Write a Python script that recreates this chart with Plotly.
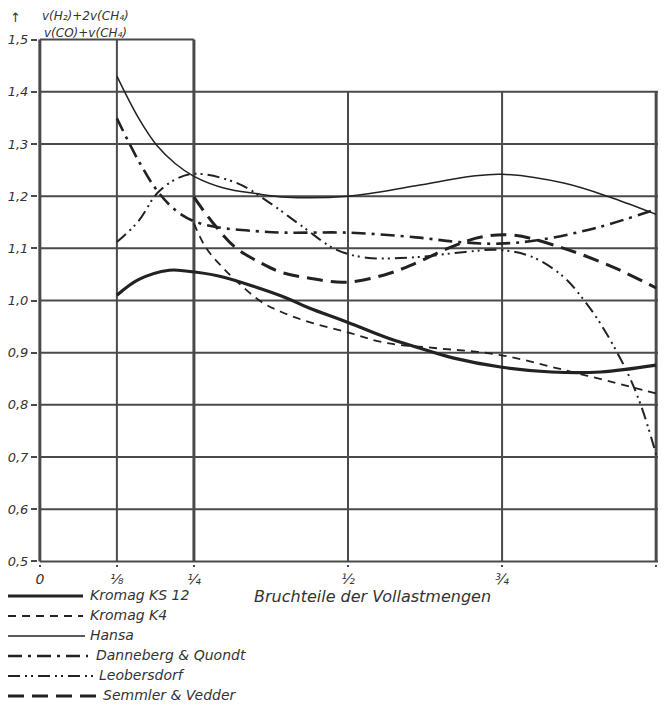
import plotly.graph_objects as go

# ---------------- data ----------------
x_ks12 = [0.125, 0.16, 0.21, 0.24, 0.29, 0.35, 0.40, 0.436, 0.50, 0.56, 0.61, 0.67, 0.75, 0.83, 0.91, 1.0]
y_ks12 = [1.010, 1.040, 1.058, 1.056, 1.047, 1.026, 1.005, 0.986, 0.958, 0.930, 0.911, 0.890, 0.872, 0.863, 0.863, 0.876]

x_k4 = [0.25, 0.269, 0.296, 0.323, 0.36, 0.392, 0.436, 0.50, 0.56, 0.64, 0.745, 0.85, 0.957, 1.0]
y_k4 = [1.148, 1.102, 1.064, 1.033, 0.997, 0.978, 0.959, 0.939, 0.919, 0.909, 0.896, 0.867, 0.835, 0.822]

x_hansa = [0.125, 0.16, 0.19, 0.22, 0.25, 0.30, 0.35, 0.40, 0.50, 0.61, 0.70, 0.75, 0.85, 0.93, 1.0]
y_hansa = [1.430, 1.350, 1.297, 1.262, 1.238, 1.215, 1.205, 1.198, 1.200, 1.220, 1.238, 1.242, 1.225, 1.196, 1.165]

x_dq = [0.125, 0.16, 0.19, 0.22, 0.25, 0.29, 0.35, 0.40, 0.50, 0.61, 0.68, 0.745, 0.81, 0.905, 1.0]
y_dq = [1.349, 1.268, 1.211, 1.173, 1.152, 1.140, 1.133, 1.130, 1.130, 1.121, 1.112, 1.109, 1.116, 1.140, 1.175]

x_leob = [0.125, 0.16, 0.19, 0.22, 0.25, 0.32, 0.373, 0.427, 0.48, 0.53, 0.61, 0.69, 0.745, 0.80, 0.85, 0.88, 0.91, 0.95, 0.975, 1.0]
y_leob = [1.112, 1.152, 1.205, 1.232, 1.243, 1.225, 1.187, 1.141, 1.098, 1.082, 1.083, 1.093, 1.097, 1.083, 1.045, 1.005, 0.955, 0.870, 0.800, 0.705]

x_sv = [0.25, 0.28, 0.317, 0.36, 0.392, 0.436, 0.495, 0.559, 0.611, 0.666, 0.718, 0.77, 0.85, 0.93, 1.0]
y_sv = [1.198, 1.150, 1.102, 1.071, 1.054, 1.043, 1.035, 1.049, 1.072, 1.102, 1.122, 1.125, 1.100, 1.064, 1.024]

x_tickvals = [0, 0.125, 0.25, 0.5, 0.75, 1.0]
x_ticktext = ["0", "⅛", "¼", "½", "¾", "1"]
y_tickvals = [0.5, 0.6, 0.7, 0.8, 0.9, 1.0, 1.1, 1.2, 1.3, 1.4, 1.5]
y_ticktext = ["0,5", "0,6", "0,7", "0,8", "0,9", "1,0", "1,1", "1,2", "1,3", "1,4", "1,5"]

names = ["Kromag KS 12", "Kromag K4", "Hansa", "Danneberg & Quondt", "Leobersdorf", "Semmler & Vedder"]

# ---------------- styles ----------------
INK = "#222222"
GRID = "#4a4a4a"
TXT = "#333333"
FONT = "DejaVu Sans"

styles = [
    dict(width=3.2, dash="solid"),
    dict(width=1.8, dash="8px,6px"),
    dict(width=1.5, dash="solid"),
    dict(width=2.6, dash="14px,6px,3px,6px"),
    dict(width=2.0, dash="12px,5px,2px,4px,2px,5px"),
    dict(width=3.0, dash="16px,8px"),
]
series = [(x_ks12, y_ks12), (x_k4, y_k4), (x_hansa, y_hansa),
          (x_dq, y_dq), (x_leob, y_leob), (x_sv, y_sv)]

fig = go.Figure()
for (xs, ys), nm, st in zip(series, names, styles):
    fig.add_trace(go.Scatter(x=xs, y=ys, name=nm, mode="lines",
                             line=dict(color=INK, width=st["width"], dash=st["dash"],
                                       shape="spline", smoothing=1.0),
                             showlegend=False))

# ---------------- grid / frame ----------------
shapes = []
def hline(y, x0, x1, w=2):
    shapes.append(dict(type="line", xref="x", yref="y", x0=x0, x1=x1, y0=y, y1=y,
                       line=dict(color=GRID, width=w), layer="below"))
def vline(x, y0, y1, w=2):
    shapes.append(dict(type="line", xref="x", yref="y", x0=x, x1=x, y0=y0, y1=y1,
                       line=dict(color=GRID, width=w), layer="below"))

for yv in [0.6, 0.7, 0.8, 0.9, 1.0, 1.1, 1.2, 1.3, 1.4]:
    hline(yv, 0, 1.003, 2)
hline(1.5, 0, 0.25, 2)
hline(0.5, 0, 1.003, 2)
vline(0, 0.5, 1.5, 3)
vline(0.125, 0.5, 1.5, 2)
vline(0.25, 0.5, 1.5, 3)
vline(0.5, 0.5, 1.4, 2)
vline(0.75, 0.5, 1.4, 2)
vline(1.0, 0.5, 1.4, 3)

# ---------------- layout geometry (page has an 8px body margin) ----------------
OFF = 8
FW, FH = 650, 699
L, T, PW, PH = 30, 29, 620, 527

def px(xs):
    return (xs - OFF - L) / PW
def py(ys):
    return (T + PH - (ys - OFF)) / PH

annotations = []
leg_rows = [
    (595, 8, 83, 88),
    (615, 8, 83, 88),
    (635, 8, 85, 88),
    (655, 8, 88, 94),
    (675, 8, 93, 97),
    (695, 8, 97, 101),
]
for (ry, lx0, lx1, tx), nm, st in zip(leg_rows, names, styles):
    shapes.append(dict(type="line", xref="paper", yref="paper",
                       x0=px(lx0), x1=px(lx1), y0=py(ry + 1), y1=py(ry + 1),
                       line=dict(color=INK, width=st["width"], dash=st["dash"])))
    annotations.append(dict(xref="paper", yref="paper", x=px(tx), y=py(ry),
                            xanchor="left", yanchor="middle", showarrow=False,
                            text=nm, font=dict(family=FONT, size=14, color=TXT, style="italic")))

annotations.append(dict(xref="paper", yref="paper", x=px(372), y=py(596),
                        xanchor="center", yanchor="middle", showarrow=False,
                        text="Bruchteile der Vollastmengen",
                        font=dict(family=FONT, size=16, color=TXT, style="italic")))
annotations.append(dict(xref="paper", yref="paper", x=px(40), y=py(16),
                        xanchor="left", yanchor="middle", showarrow=False,
                        text="v(H₂)+2v(CH₄)",
                        font=dict(family=FONT, size=12, color=TXT, style="italic")))
annotations.append(dict(xref="paper", yref="paper", x=px(42), y=py(33),
                        xanchor="left", yanchor="middle", showarrow=False,
                        text="v(CO)+v(CH₄)",
                        font=dict(family=FONT, size=12, color=TXT, style="italic")))
annotations.append(dict(xref="paper", yref="paper", x=px(15), y=py(17),
                        xanchor="center", yanchor="middle", showarrow=False,
                        text="↑",
                        font=dict(family=FONT, size=13, color=TXT)))

fig.update_layout(
    width=FW, height=FH,
    margin=dict(l=L, r=FW - L - PW, t=T, b=FH - T - PH, pad=0),
    plot_bgcolor="white", paper_bgcolor="white",
    shapes=shapes, annotations=annotations,
    showlegend=False,
    xaxis=dict(range=[-0.003, 1.003], showgrid=False, zeroline=False, showline=False,
               tickvals=x_tickvals, ticktext=x_ticktext, ticks="outside", ticklen=2,
               tickwidth=2, tickcolor=GRID,
               tickfont=dict(family=FONT, size=14, color=TXT, style="italic")),
    yaxis=dict(range=[0.495, 1.505], showgrid=False, zeroline=False, showline=False,
               tickvals=y_tickvals, ticktext=y_ticktext, ticks="outside", ticklen=6,
               tickwidth=1.5, tickcolor=GRID,
               tickfont=dict(family=FONT, size=13, color=TXT, style="italic")),
)

fig.write_html("out.html")
